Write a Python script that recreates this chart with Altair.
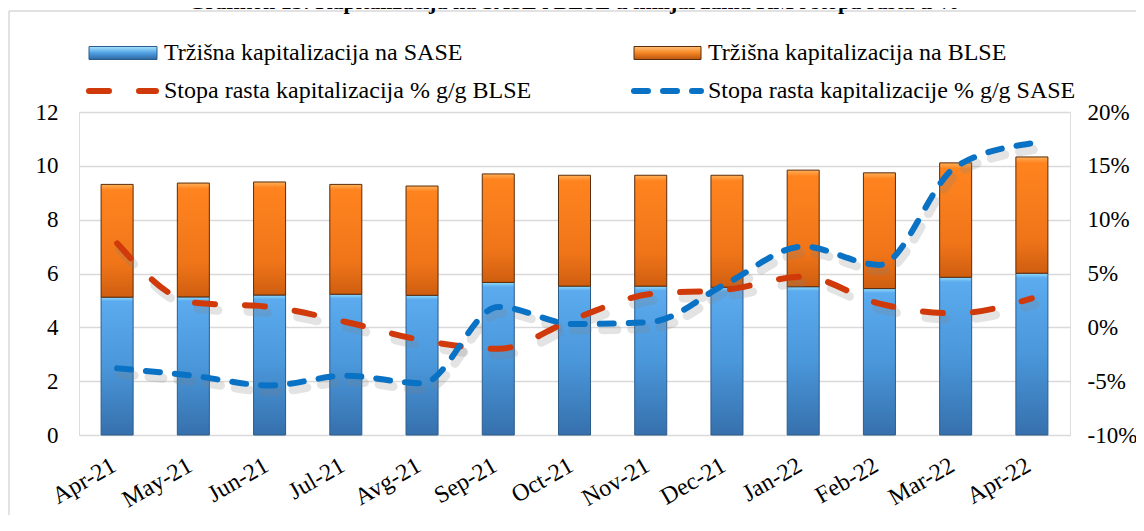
import altair as alt
import pandas as pd

months = ["Apr-21", "May-21", "Jun-21", "Jul-21", "Avg-21", "Sep-21", "Oct-21",
          "Nov-21", "Dec-21", "Jan-22", "Feb-22", "Mar-22", "Apr-22"]
sase_cap = [5.12, 5.13, 5.20, 5.23, 5.19, 5.67, 5.53, 5.53, 5.49, 5.51, 5.44, 5.86, 6.01]
blse_cap = [4.19, 4.23, 4.20, 4.08, 4.06, 4.03, 4.12, 4.12, 4.16, 4.33, 4.30, 4.25, 4.32]
growth_blse = [7.8, 2.3, 1.9, 0.5, -1.2, -2.0, 0.8, 3.1, 3.5, 4.7, 2.2, 1.3, 2.7]
growth_sase = [-3.8, -4.5, -5.4, -4.5, -5.2, 1.9, 0.3, 0.5, 4.1, 7.5, 5.8, 14.9, 17.1]

left_ticks = [0, 2, 4, 6, 8, 10, 12]
right_ticks = [-10, -5, 0, 5, 10, 15, 20]

title_text = "Grafikon 15: Kapitalizacija na SASE i BLSE u milijardama KM i stopa rasta u %"
leg_sase = "Tržišna kapitalizacija na SASE"
leg_blse = "Tržišna kapitalizacija na BLSE"
leg_g_blse = "Stopa rasta kapitalizacija % g/g BLSE"
leg_g_sase = "Stopa rasta kapitalizacije % g/g SASE"

FONT = "Liberation Serif"
GRID = "#d9d9d9"
RED = "#d03a0a"
BLUE = "#0a72c4"
RED_DASH = [20, 30]
BLUE_DASH = [14, 15]

W, H = 991, 323

df = pd.DataFrame({"month": months, "sase": sase_cap, "blse": blse_cap,
                   "g_blse": growth_blse, "g_sase": growth_sase})

blue_grad = alt.LinearGradient(gradient="linear", x1=0, x2=0, y1=0, y2=1, stops=[
    alt.GradientStop(offset=0, color="#92dcfb"),
    alt.GradientStop(offset=0.03, color="#5cabef"),
    alt.GradientStop(offset=0.5, color="#4a97da"),
    alt.GradientStop(offset=1, color="#3670ad")])
orange_grad = alt.LinearGradient(gradient="linear", x1=0, x2=0, y1=0, y2=1, stops=[
    alt.GradientStop(offset=0, color="#ffb05a"),
    alt.GradientStop(offset=0.05, color="#ff841f"),
    alt.GradientStop(offset=0.7, color="#f07519"),
    alt.GradientStop(offset=1, color="#cf5e10")])
blue_sw = alt.LinearGradient(gradient="linear", x1=0, x2=0, y1=0, y2=1, stops=[
    alt.GradientStop(offset=0, color="#a8e6ff"),
    alt.GradientStop(offset=0.5, color="#4f9fe2"),
    alt.GradientStop(offset=1, color="#2d67a0")])
orange_sw = alt.LinearGradient(gradient="linear", x1=0, x2=0, y1=0, y2=1, stops=[
    alt.GradientStop(offset=0, color="#ffc27a"),
    alt.GradientStop(offset=0.5, color="#f58522"),
    alt.GradientStop(offset=1, color="#b85510")])

xscale = alt.Scale(domain=months, paddingInner=0.58, paddingOuter=0.29)
x_axis = alt.Axis(labelAngle=330, labelAlign="right", labelBaseline="top",
                  labelPadding=18, labelOffset=-9, labelFont=FONT, labelFontSize=24,
                  labelColor="#000000", domain=False, ticks=False, grid=False)
x_enc = alt.X("month:N", sort=months, scale=xscale, title=None, axis=x_axis)

base = alt.Chart(df)

lscale = alt.Scale(domain=[0, 12], nice=False)
left_axis = alt.Axis(values=left_ticks, grid=True, gridColor=GRID, gridWidth=1.5,
                     domain=False, ticks=False, tickSize=0, labelPadding=21,
                     labelFont=FONT, labelFontSize=23, labelColor="#000000",
                     orient="left")

bars_sase = base.mark_bar(fill=blue_grad, stroke="#2c5c8c", strokeWidth=1).encode(
    x=x_enc, y=alt.Y("sase:Q", scale=lscale, title=None, axis=left_axis),
    y2=alt.Y2(datum=0))

bars_blse = base.transform_calculate(total="datum.sase + datum.blse").mark_bar(
    fill=orange_grad, stroke="#5a2c0a", strokeWidth=1).encode(
    x=x_enc, y=alt.Y("total:Q", scale=lscale, title=None, axis=left_axis),
    y2="sase:Q")

bars = alt.layer(bars_sase, bars_blse)

rscale = alt.Scale(domain=[-10, 20], nice=False)
right_axis = alt.Axis(values=right_ticks, grid=False, domain=False, ticks=False, tickSize=0,
                      labelPadding=17, labelFont=FONT, labelFontSize=23, labelColor="#000000",
                      orient="right", labelExpr="datum.value + '%'")

def growth_line(field, color, dash, shadow):
    if shadow:
        mk = base.mark_line(color="#7f7f7f", opacity=0.22, strokeWidth=9, strokeDash=dash,
                            strokeCap="round", interpolate="monotone", xOffset=3, yOffset=6)
    else:
        mk = base.mark_line(color=color, strokeWidth=6, strokeDash=dash, strokeCap="round",
                            interpolate="monotone")
    return mk.encode(x=x_enc, y=alt.Y(f"{field}:Q", scale=rscale, title=None, axis=right_axis))

lines = alt.layer(
    growth_line("g_blse", RED, RED_DASH, True),
    growth_line("g_sase", BLUE, BLUE_DASH, True),
    growth_line("g_blse", RED, RED_DASH, False),
    growth_line("g_sase", BLUE, BLUE_DASH, False),
)

one = pd.DataFrame({"k": [0]})
deco = alt.Chart(one)

frame_left = deco.mark_rule(color=GRID, strokeWidth=1.5).encode(
    x=alt.value(-70), y=alt.value(-101), y2=alt.value(420))
frame_top = deco.mark_rule(color=GRID, strokeWidth=1.5).encode(
    x=alt.value(-70), x2=alt.value(1200), y=alt.value(-101))
title = deco.mark_text(text=title_text, font=FONT, fontSize=22, fontWeight="bold",
                       align="center", baseline="alphabetic", color="#000000").encode(
    x=alt.value(495), y=alt.value(-103))

sw1 = deco.mark_rect(fill=blue_sw, stroke="#2c5c8c", strokeWidth=1).encode(
    x=alt.value(10), x2=alt.value(78), y=alt.value(-65.5), y2=alt.value(-52.5))
sw2 = deco.mark_rect(fill=orange_sw, stroke="#5a2c0a", strokeWidth=1).encode(
    x=alt.value(555), x2=alt.value(622), y=alt.value(-65.5), y2=alt.value(-52.5))
sw3 = deco.mark_rule(color=RED, strokeWidth=6, strokeDash=RED_DASH, strokeCap="round").encode(
    x=alt.value(10), x2=alt.value(77), y=alt.value(-21))
sw4 = deco.mark_rule(color=BLUE, strokeWidth=6, strokeDash=BLUE_DASH, strokeCap="round").encode(
    x=alt.value(555), x2=alt.value(622), y=alt.value(-21))

def leg_text(txt, x, y):
    return deco.mark_text(text=txt, font=FONT, fontSize=24, align="left", baseline="middle",
                          color="#000000").encode(x=alt.value(x), y=alt.value(y))

legend = alt.layer(sw1, sw2, sw3, sw4,
                   leg_text(leg_sase, 85, -59), leg_text(leg_blse, 629, -59),
                   leg_text(leg_g_blse, 85, -21), leg_text(leg_g_sase, 629, -21))

chart = alt.layer(frame_left, frame_top, title, legend, bars, lines).resolve_scale(
    y="independent").properties(
    width=W, height=H,
    autosize=alt.AutoSizeParams(type="none"),
    padding={"left": 71, "top": 104, "right": 66, "bottom": 80},
).configure_view(strokeWidth=0).configure(background="#ffffff")

chart.save("out.html", embed_options={"renderer": "svg", "actions": False})
